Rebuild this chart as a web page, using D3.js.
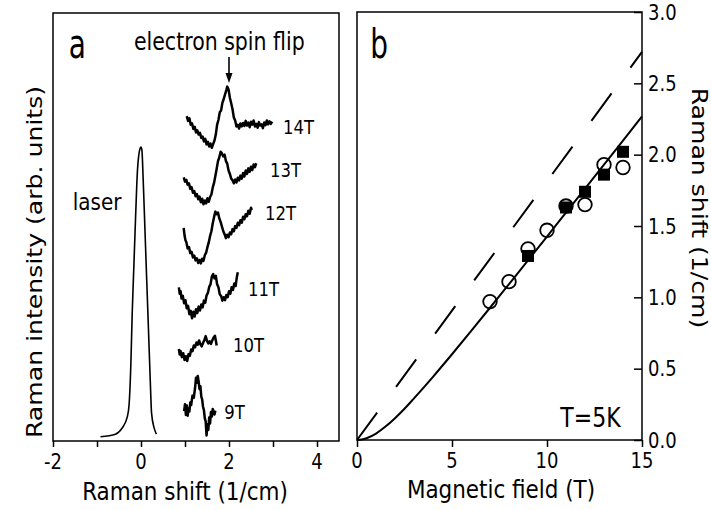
<!DOCTYPE html>
<html><head><meta charset="utf-8">
<script src="https://cdn.jsdelivr.net/npm/d3@7"></script>
<style>
html,body{margin:0;padding:0;background:#fff;}
svg text{font-family:"DejaVu Sans",sans-serif;fill:#000;}
</style></head>
<body>
<svg id="c" width="711" height="510"></svg>
<script>
// ---------- DATA ----------
// Panel a: laser line  [Raman shift (1/cm), intensity (arb.)]
const laser = [[-0.92,1.0],[-0.58,1.6],[-0.43,3.0],[-0.31,5.7],[-0.27,8.6],[-0.23,18.1],[-0.20,29.8],[-0.16,41.5],[-0.12,53.2],[-0.08,63.3],[-0.02,68.4],[0.0,68.7],[0.02,68.0],[0.05,61.0],[0.09,49.3],[0.13,37.6],[0.17,26.0],[0.21,14.3],[0.24,6.5],[0.30,3.0],[0.35,1.6]];

const spec14 = [[1.04,75.9],[1.07,74.8],[1.10,75.4],[1.13,73.9],[1.16,74.2],[1.19,72.9],[1.22,73.4],[1.25,72.1],[1.28,72.6],[1.31,71.6],[1.34,72.0],[1.37,70.8],[1.40,71.1],[1.43,70.0],[1.46,70.6],[1.49,69.3],[1.52,69.9],[1.55,68.8],[1.58,69.5],[1.61,68.5],[1.64,69.4],[1.67,70.2],[1.70,71.6],[1.73,73.9],[1.76,75.0],[1.79,76.8],[1.82,77.2],[1.85,79.0],[1.88,79.9],[1.91,81.0],[1.94,82.0],[1.96,82.8],[1.99,82.1],[2.02,80.2],[2.05,78.9],[2.08,77.5],[2.11,75.6],[2.14,74.9],[2.17,73.5],[2.20,73.9],[2.23,73.0],[2.26,74.2],[2.29,73.5],[2.32,74.3],[2.35,73.6],[2.38,74.8],[2.41,73.7],[2.44,74.4],[2.47,73.3],[2.50,74.6],[2.53,73.9],[2.56,74.9],[2.59,73.5],[2.62,74.1],[2.65,73.2],[2.68,74.5],[2.71,73.7],[2.74,74.0],[2.77,73.1],[2.80,74.4],[2.83,73.8],[2.86,74.9],[2.89,74.0],[2.92,74.7],[2.95,74.1],[2.98,74.6]];

const spec13 = [[0.97,61.6],[1.00,60.6],[1.03,61.0],[1.06,59.9],[1.09,60.2],[1.12,58.9],[1.15,59.3],[1.18,58.0],[1.21,58.4],[1.24,57.2],[1.27,57.7],[1.30,56.5],[1.33,57.1],[1.36,55.8],[1.39,56.6],[1.42,55.3],[1.45,56.2],[1.48,55.5],[1.51,56.7],[1.54,55.9],[1.57,57.0],[1.60,57.6],[1.63,59.2],[1.66,60.3],[1.69,61.9],[1.72,63.6],[1.75,65.4],[1.78,66.3],[1.81,67.6],[1.84,67.2],[1.87,66.5],[1.90,66.9],[1.93,65.4],[1.96,64.8],[1.99,63.2],[2.02,62.4],[2.05,61.3],[2.08,60.9],[2.11,60.2],[2.14,61.1],[2.17,60.4],[2.20,61.5],[2.23,60.9],[2.26,62.0],[2.29,61.3],[2.32,62.6],[2.35,61.8],[2.38,63.2],[2.41,62.4],[2.44,63.7],[2.47,62.9],[2.50,64.1],[2.53,63.3],[2.56,64.6],[2.59,64.0],[2.62,64.9]];

const spec12 = [[0.97,49.8],[0.99,48.0],[1.01,46.9],[1.03,46.5],[1.06,45.0],[1.09,45.3],[1.12,43.9],[1.15,44.2],[1.18,42.9],[1.21,43.3],[1.24,42.2],[1.27,42.7],[1.30,41.6],[1.33,42.3],[1.36,41.5],[1.39,42.6],[1.42,42.1],[1.45,43.4],[1.48,44.0],[1.51,45.3],[1.54,46.4],[1.57,47.9],[1.60,49.0],[1.63,50.8],[1.66,52.3],[1.69,53.6],[1.72,53.0],[1.75,53.4],[1.78,52.0],[1.81,51.2],[1.84,50.1],[1.87,49.0],[1.90,48.3],[1.93,47.4],[1.96,48.2],[1.99,47.6],[2.02,48.7],[2.05,48.3],[2.08,49.5],[2.11,49.0],[2.14,50.2],[2.17,49.8],[2.20,51.0],[2.23,50.4],[2.26,51.6],[2.29,51.0],[2.32,52.4],[2.35,51.8],[2.38,53.0],[2.41,52.5],[2.44,53.8],[2.47,53.1],[2.50,54.5],[2.52,54.0]];

const spec11 = [[0.86,35.9],[0.88,34.4],[0.90,35.0],[0.92,33.3],[0.95,33.9],[0.98,32.2],[1.01,32.9],[1.04,31.0],[1.07,31.6],[1.10,29.6],[1.13,30.4],[1.16,28.7],[1.19,30.2],[1.22,29.1],[1.25,30.8],[1.28,29.9],[1.31,31.4],[1.34,30.5],[1.37,31.9],[1.40,31.2],[1.43,32.8],[1.46,32.3],[1.49,34.0],[1.52,34.6],[1.55,36.0],[1.58,36.6],[1.61,38.4],[1.64,39.0],[1.67,38.0],[1.70,38.6],[1.73,36.6],[1.76,35.9],[1.79,34.3],[1.82,33.9],[1.85,32.8],[1.88,33.6],[1.91,32.9],[1.94,34.1],[1.97,33.6],[2.00,35.0],[2.03,34.4],[2.06,35.9],[2.09,35.3],[2.12,36.8],[2.15,36.2],[2.18,38.4],[2.20,39.4]];

const spec10 = [[0.86,21.5],[0.88,20.2],[0.90,21.0],[0.93,19.6],[0.96,20.5],[0.99,18.9],[1.02,19.8],[1.05,18.7],[1.08,20.3],[1.11,19.9],[1.14,21.4],[1.17,21.0],[1.20,22.3],[1.23,21.9],[1.26,23.0],[1.29,22.5],[1.32,23.5],[1.35,22.6],[1.38,22.1],[1.41,22.9],[1.44,23.6],[1.47,24.5],[1.50,23.4],[1.53,22.8],[1.56,23.3],[1.59,22.7],[1.62,23.5],[1.65,24.2],[1.68,24.6],[1.70,23.5],[1.72,22.3]];

const spec9 = [[0.98,7.0],[1.00,8.6],[1.02,6.1],[1.04,8.3],[1.06,5.9],[1.08,7.6],[1.10,6.9],[1.12,9.0],[1.14,8.4],[1.17,10.6],[1.20,10.1],[1.23,12.5],[1.25,14.8],[1.27,13.6],[1.29,15.2],[1.31,13.9],[1.33,12.1],[1.35,12.8],[1.37,10.4],[1.39,9.7],[1.41,8.0],[1.43,7.2],[1.45,5.3],[1.47,4.6],[1.49,1.3],[1.51,3.9],[1.53,2.6],[1.55,5.5],[1.57,4.1],[1.59,6.8],[1.61,5.7],[1.63,7.5],[1.65,6.9],[1.67,6.2],[1.69,7.1]];

const specLabels = ["14T","13T","12T","11T","10T","9T"];
const labelPos = [[3.23,71.7],[2.93,61.7],[2.82,51.6],[2.43,33.9],[2.09,20.8],[1.89,5.1]]; // [x, intensity] of label start
const xTicksA = [-2,-1,0,1,2,3,4];
const xLabelsA = [-2,0,2,4];

// Panel b
const fitB = [0,0.25,0.5,1,1.5,2,2.5,3,4,5,6,7,8,9,10,11,12,13,14,15];
const fitE = [0,0.003,0.012,0.045,0.094,0.153,0.219,0.292,0.443,0.601,0.763,0.927,1.093,1.259,1.426,1.594,1.762,1.930,2.099,2.268];
const dashB = [0,15];
const dashE = [0,2.72];
const circB = [7,8,9,10,11,12,13,14];
const circE = [0.97,1.11,1.34,1.47,1.64,1.65,1.93,1.91];
const sqB = [9,11,12,13,14];
const sqE = [1.29,1.63,1.74,1.86,2.02];
const xTicksB = [0,5,10,15];
const yTicksB = [0,0.5,1.0,1.5,2.0,2.5,3.0];

// ---------- DRAW ----------
const svg = d3.select("#c");
const SY = 1.17;
function txt(x, y, s, size, anchor, rot, sy) {
  svg.append("text")
    .attr("transform", `translate(${x},${y}) scale(1,${sy||SY}) rotate(${rot||0})`)
    .attr("text-anchor", anchor || "start")
    .style("font-size", size + "px")
    .text(s);
}

// Panel a scales
const xa = d3.scaleLinear().domain([-2, 4.5]).range([53, 339]);
const ya = d3.scaleLinear().domain([0, 100]).range([441, 13]);

svg.append("rect").attr("x", xa(-2)).attr("y", ya(100))
  .attr("width", xa(4.5) - xa(-2)).attr("height", ya(0) - ya(100))
  .attr("fill", "none").attr("stroke", "#000").attr("stroke-width", 1.5);

const axA = svg.append("g").attr("transform", `translate(0,${ya(0)})`)
  .call(d3.axisBottom(xa).tickValues(xTicksA).tickSize(6).tickFormat(""));
axA.select(".domain").remove();
axA.selectAll("line").attr("stroke", "#000").attr("stroke-width", 1.5);

xLabelsA.forEach(v => txt(xa(v), 469, String(v), 18, "middle"));

const lineA = d3.line().x(d => xa(d[0])).y(d => ya(d[1]));
svg.append("path").datum(laser).attr("d", lineA.curve(d3.curveMonotoneX))
  .attr("fill", "none").attr("stroke", "#000").attr("stroke-width", 1.6);

const lineN = d3.line().x(d => xa(d[0])).y(d => ya(d[1]));
[spec14, spec13, spec12, spec11, spec10, spec9].forEach(s => {
  svg.append("path").datum(s).attr("d", lineN)
    .attr("fill", "none").attr("stroke", "#000").attr("stroke-width", 2.5)
    .attr("stroke-linejoin", "round");
});

specLabels.forEach((l, i) => txt(xa(labelPos[i][0]), ya(labelPos[i][1]), l, 16.5, "start"));

txt(xa(-1.55), 210, "laser", 20, "start");
txt(xa(-1.64), 58, "a", 28, "start", 0, 1.45);
txt(xa(-0.16), 50, "electron spin flip", 20.5, "start");

// arrow at x = 2.0
const ax = xa(2.0);
svg.append("line").attr("x1", ax).attr("x2", ax).attr("y1", 57).attr("y2", 76)
  .attr("stroke", "#000").attr("stroke-width", 1.6);
svg.append("path").attr("d", `M${ax-3.5},73 L${ax+3.5},73 L${ax},83 Z`).attr("fill", "#000");

txt(185, 500, "Raman shift (1/cm)", 21.5, "middle");
txt(42, 262, "Raman intensity (arb. units)", 21.5, "middle", -90);

// Panel b scales
const xb = d3.scaleLinear().domain([0, 15]).range([357, 642]);
const yb = d3.scaleLinear().domain([0, 3]).range([440, 12]);

svg.append("rect").attr("x", xb(0)).attr("y", yb(3))
  .attr("width", xb(15) - xb(0)).attr("height", yb(0) - yb(3))
  .attr("fill", "none").attr("stroke", "#000").attr("stroke-width", 1.5);

const axBx = svg.append("g").attr("transform", `translate(0,${yb(0)})`)
  .call(d3.axisBottom(xb).tickValues(xTicksB).tickSize(7).tickFormat(""));
axBx.select(".domain").remove();
axBx.selectAll("line").attr("stroke", "#000").attr("stroke-width", 1.5);

const axBy = svg.append("g").attr("transform", `translate(${xb(15)},0)`)
  .call(d3.axisLeft(yb).tickValues(yTicksB).tickSize(8).tickFormat(""));
axBy.select(".domain").remove();
axBy.selectAll("line").attr("stroke", "#000").attr("stroke-width", 1.5);

xTicksB.forEach(v => txt(xb(v), 468, String(v), 18, "middle"));
yTicksB.forEach(v => txt(648, yb(v) + 7.5, v.toFixed(1), 18, "start"));

const lineB = d3.line().x(d => xb(d[0])).y(d => yb(d[1]));
svg.append("path").datum(fitB.map((b, i) => [b, fitE[i]]))
  .attr("d", lineB.curve(d3.curveMonotoneX))
  .attr("fill", "none").attr("stroke", "#000").attr("stroke-width", 2);
svg.append("path").datum(dashB.map((b, i) => [b, dashE[i]]))
  .attr("d", d3.line().x(d => xb(d[0])).y(d => yb(d[1])))
  .attr("fill", "none").attr("stroke", "#000").attr("stroke-width", 2)
  .attr("stroke-dasharray", "34,32");

svg.append("g").selectAll("circle").data(circB.map((b, i) => [b, circE[i]])).join("circle")
  .attr("cx", d => xb(d[0])).attr("cy", d => yb(d[1])).attr("r", 6.8)
  .attr("fill", "none").attr("stroke", "#000").attr("stroke-width", 1.8);

svg.append("g").selectAll("rect").data(sqB.map((b, i) => [b, sqE[i]])).join("rect")
  .attr("x", d => xb(d[0]) - 6).attr("y", d => yb(d[1]) - 6)
  .attr("width", 12).attr("height", 12).attr("fill", "#000");

txt(xb(0.7), 58, "b", 28, "start", 0, 1.45);
txt(xb(10.7), 427, "T=5K", 22, "start");
txt(501, 498, "Magnetic field (T)", 21.5, "middle");
txt(692, 208, "Raman shift (1/cm)", 21.5, "middle", 90);
</script>
</body></html>
